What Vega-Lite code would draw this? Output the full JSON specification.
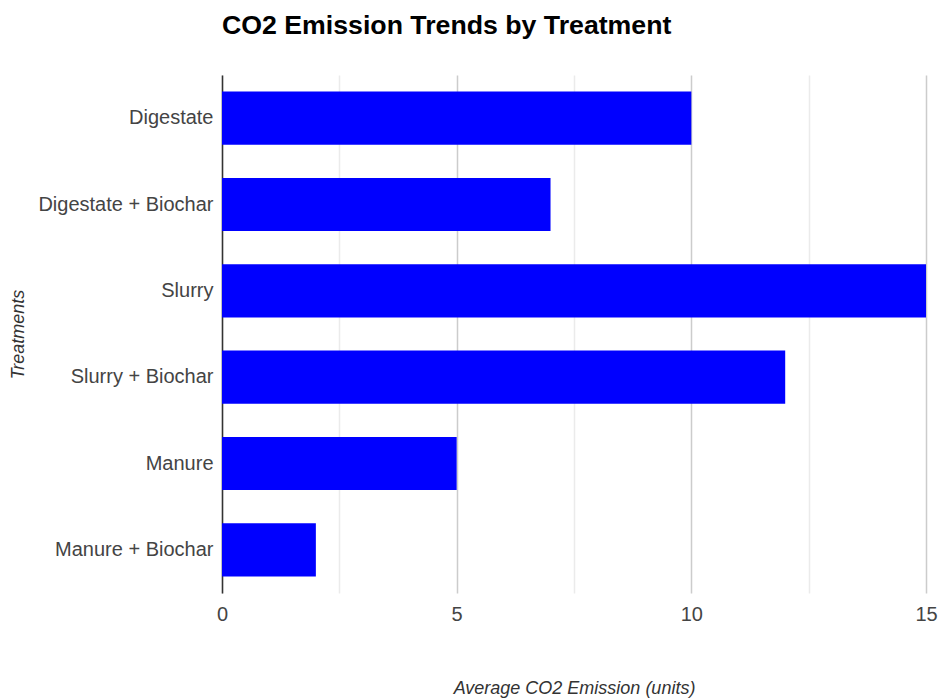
{
  "$schema": "https://vega.github.io/schema/vega-lite/v6.json",
  "autosize": {"type": "none"},
  "padding": {"left": 222, "top": 75, "right": 13, "bottom": 105},
  "width": 704,
  "height": 518,
  "background": "white",
  "title": {
    "text": "CO2 Emission Trends by Treatment",
    "anchor": "start",
    "frame": "group",
    "font": "Liberation Sans",
    "fontSize": 26.7,
    "fontWeight": "bold",
    "color": "#000000",
    "offset": 35
  },
  "data": {
    "values": [
      {"treatment": "Digestate", "emission": 10},
      {"treatment": "Digestate + Biochar", "emission": 7},
      {"treatment": "Slurry", "emission": 15},
      {"treatment": "Slurry + Biochar", "emission": 12},
      {"treatment": "Manure", "emission": 5},
      {"treatment": "Manure + Biochar", "emission": 2}
    ]
  },
  "mark": {"type": "bar", "color": "#0000ff"},
  "encoding": {
    "y": {
      "field": "treatment",
      "type": "nominal",
      "sort": null,
      "scale": {"paddingInner": 0.385, "paddingOuter": 0.1925},
      "axis": {
        "title": "Treatments",
        "titleFont": "Liberation Sans",
        "titleFontStyle": "italic",
        "titleFontWeight": "normal",
        "titleFontSize": 18,
        "titleColor": "#333333",
        "titlePadding": 10,
        "labelFont": "Liberation Sans",
        "labelFontSize": 20,
        "labelColor": "#444444",
        "labelPadding": 9,
        "labelLimit": 300,
        "ticks": false,
        "domainColor": "#333333",
        "domainWidth": 1.5,
        "grid": false
      }
    },
    "x": {
      "field": "emission",
      "type": "quantitative",
      "scale": {"domain": [0, 15], "nice": false},
      "axis": {
        "title": "Average CO2 Emission (units)",
        "titleFont": "Liberation Sans",
        "titleFontStyle": "italic",
        "titleFontWeight": "normal",
        "titleFontSize": 18,
        "titleColor": "#333333",
        "titlePadding": 55,
        "values": [0, 2.5, 5, 7.5, 10, 12.5, 15],
        "labelExpr": "datum.value % 5 === 0 ? datum.label : ''",
        "labelFont": "Liberation Sans",
        "labelFontSize": 20,
        "labelColor": "#444444",
        "labelPadding": 11,
        "labelFlush": false,
        "ticks": false,
        "domain": false,
        "grid": true,
        "gridColor": {"condition": {"test": "datum.value % 5 === 0", "value": "#cccccc"}, "value": "#ebebeb"},
        "gridWidth": 1.5
      }
    }
  },
  "config": {"view": {"stroke": null}}
}
